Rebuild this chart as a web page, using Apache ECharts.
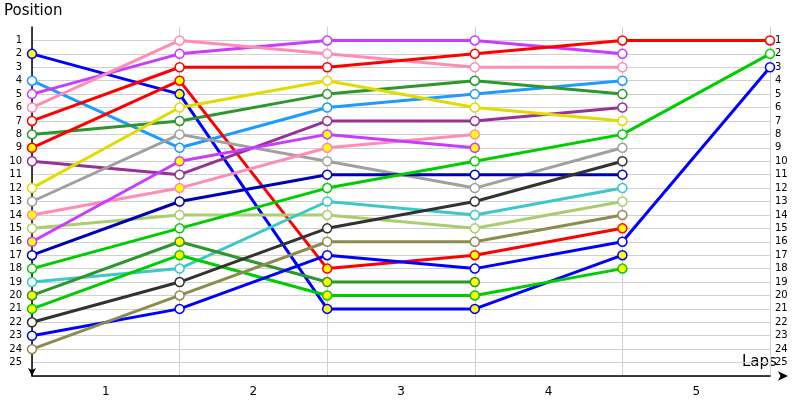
<!DOCTYPE html>
<html>
<head>
<meta charset="utf-8">
<script src="https://cdn.jsdelivr.net/npm/echarts@6/dist/echarts.min.js"></script>
<style>html,body{margin:0;padding:0;background:#fff}#main{width:800px;height:400px}</style>
</head>
<body>
<div id="main"></div>
<script>
// positions at each lap boundary (0..5), null = no data
var lapLabels = ['1', '2', '3', '4', '5'];
var blueA      = [2, 5, 21, 21, 17, null];
var lightBlue  = [4, 9, 6, 5, 4, null];
var purple     = [5, 2, 1, 1, 2, null];
var pink       = [6, 1, 2, 3, 3, null];
var red        = [7, 3, 3, 2, 1, 1];
var darkGreen  = [8, 7, 5, 4, 5, null];
var redB       = [9, 4, 18, 17, 15, null];
var darkPurple = [10, 11, 7, 7, 6, null];
var yellow     = [12, 6, 4, 6, 7, null];
var grey       = [13, 8, 10, 12, 9, null];
var pinkB      = [14, 12, 9, 8, null, null];
var lightGreen = [15, 14, 14, 15, 13, null];
var purpleB    = [16, 10, 8, 9, null, null];
var darkBlue   = [17, 13, 11, 11, 11, null];
var green      = [18, 15, 12, 10, 8, 2];
var cyan       = [19, 18, 13, 14, 12, null];
var darkGreenB = [20, 16, 19, 19, null, null];
var greenB     = [21, 17, 20, 20, 18, null];
var black      = [22, 19, 15, 13, 10, null];
var blue       = [23, 21, 17, 18, 16, 3];
var olive      = [24, 20, 16, 16, 14, null];

var lines = [
    [blueA, '#0000ff', true], [lightBlue, '#1e9bff', false], [purple, '#c83cff', false],
    [pink, '#ff8cb4', false], [red, '#ff0000', false], [darkGreen, '#2d962d', false],
    [redB, '#ff0000', true], [darkPurple, '#963296', false], [yellow, '#e1dc00', false],
    [grey, '#a0a0a0', false], [pinkB, '#ff8cb4', true], [lightGreen, '#aacd6e', false],
    [purpleB, '#c83cff', true], [darkBlue, '#0000b4', false], [green, '#00cd00', false],
    [cyan, '#3cc8c8', false], [darkGreenB, '#2d962d', true], [greenB, '#00cd00', true],
    [black, '#323232', false], [blue, '#0000ff', false], [olive, '#8c8c50', false]
];

var series = lines.map(function (l) {
    var pts = [];
    l[0].forEach(function (v, i) { if (v != null) pts.push([i, v]); });
    return {
        type: 'line', data: pts, symbol: 'circle', symbolSize: 9, z: 3,
        lineStyle: { color: l[1], width: 3 },
        itemStyle: { color: l[2] ? '#ffff00' : '#ffffff', borderColor: l[1], borderWidth: 1.5 }
    };
});

var splitColors = ['transparent'];
for (var i = 1; i <= 26; i++) splitColors.push('#d0d0d0');

var yLabel = function (v) { return (v >= 1 && v <= 25) ? v : ''; };

var chart = echarts.init(document.getElementById('main'));
chart.setOption({
    animation: false,
    textStyle: { fontFamily: 'DejaVu Sans' },
    grid: { left: 32, right: 30, top: 27, bottom: 24 },
    xAxis: [{
        type: 'value', min: 0, max: 5, interval: 1,
        axisLine: { onZero: false, symbol: ['none', 'arrow'], symbolSize: [7, 10], symbolOffset: [0, 18], lineStyle: { color: '#000', width: 1.5 } },
        axisTick: { show: false }, axisLabel: { show: false },
        splitLine: { lineStyle: { color: '#d0d0d0' } }
    }, {
        type: 'value', min: 0, max: 5, interval: 0.5, position: 'bottom',
        axisLine: { show: false }, axisTick: { show: false }, splitLine: { show: false },
        axisLabel: { color: '#000', fontSize: 12, margin: 10, formatter: function (v) { return v % 1 === 0.5 ? lapLabels[Math.floor(v)] : ''; } }
    }],
    yAxis: [{
        type: 'value', inverse: true, min: 0, max: 26, interval: 1,
        axisLine: { symbol: ['arrow', 'none'], symbolSize: [6, 8], lineStyle: { color: '#000', width: 1.5 } },
        axisTick: { show: false },
        axisLabel: { color: '#000', fontSize: 10, formatter: yLabel, margin: 10 },
        splitLine: { lineStyle: { color: splitColors } }
    }, {
        type: 'value', inverse: true, min: 0, max: 26, interval: 1, position: 'right',
        axisLine: { show: false }, axisTick: { show: false }, splitLine: { show: false },
        axisLabel: { color: '#000', fontSize: 10, formatter: yLabel, margin: 5 }
    }],
    graphic: [
        { type: 'text', left: 4, top: 4, style: { text: 'Position', fontSize: 15, fill: '#000', fontFamily: 'DejaVu Sans' } },
        { type: 'text', left: 742, top: 355, style: { text: 'Laps', fontSize: 15, fill: '#000', fontFamily: 'DejaVu Sans' } }
    ],
    series: series
});
</script>
</body>
</html>
